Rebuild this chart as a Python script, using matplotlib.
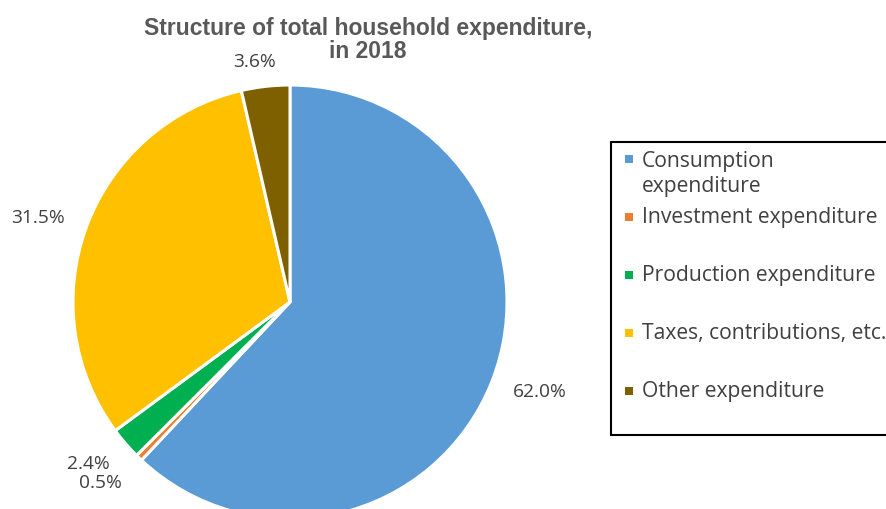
import matplotlib.pyplot as plt
from matplotlib.patches import Rectangle

# data
categories = ["Consumption\nexpenditure", "Investment expenditure", "Production expenditure",
              "Taxes, contributions, etc.", "Other expenditure"]
shares = [62.0, 0.5, 2.4, 31.5, 3.6]
colors = ["#5B9BD5", "#ED7D31", "#00B050", "#FFC000", "#7F6000"]
title_lines = ["Structure of total household expenditure,", "in 2018"]

W, H = 886, 510
fig = plt.figure(figsize=(W / 100, H / 100), dpi=100)

# pie axes placed in pixels: centre (290, 303), radius 217
cx, cy, r = 290, 303, 217
ax = fig.add_axes([(cx - r) / W, (H - cy - r) / H, 2 * r / W, 2 * r / H])
wedges, texts, autotexts = ax.pie(shares, colors=colors, startangle=90, counterclock=False,
                                  autopct="%.1f%%", pctdistance=1.23, radius=1,
                                  wedgeprops=dict(edgecolor="white", linewidth=2.2),
                                  textprops=dict(color="#404040", fontsize=13.8, family="Open Sans"))
ax.set_xlim(-1, 1)
ax.set_ylim(-1, 1)
ax.set_aspect("equal")
ax.axis("off")

# move the labels to where the original has them
autotexts[0].set_position(((540 - cx) / r, (cy - 392) / r))
autotexts[1].set_position(((100 - cx) / r, (cy - 483) / r))
autotexts[2].set_position(((88 - cx) / r, (cy - 464) / r))
autotexts[3].set_position(((38 - cx) / r, (cy - 218) / r))
autotexts[4].set_position(((255 - cx) / r, (cy - 62) / r))
for t in autotexts:
    t.set_ha("center")
    t.set_va("center")

# title, one text per line
for line, ty in zip(title_lines, [28, 52]):
    fig.text(368 / W, 1 - ty / H, line, ha="center", va="center", fontsize=16.5,
             fontweight="bold", color="#595959", family="Liberation Sans")

# legend box, drawn by hand
fig.patches.append(Rectangle((611 / W, 1 - 436 / H), 400 / W, 293 / H, transform=fig.transFigure,
                             facecolor="white", edgecolor="black", linewidth=1.5))
legend_y = [174, 218, 276, 334, 392]
marker_y = [160, 218, 276, 334, 392]
for lab, col, ty, my in zip(categories, colors, legend_y, marker_y):
    fig.patches.append(Rectangle((625 / W, 1 - (my + 4) / H), 8 / W, 8 / H,
                                 transform=fig.transFigure, facecolor=col, edgecolor="none"))
    fig.text(642 / W, 1 - ty / H, lab, ha="left", va="center", fontsize=15.2,
             color="#404040", family="Open Sans", linespacing=1.3)

fig.savefig("out.png", dpi=100)
